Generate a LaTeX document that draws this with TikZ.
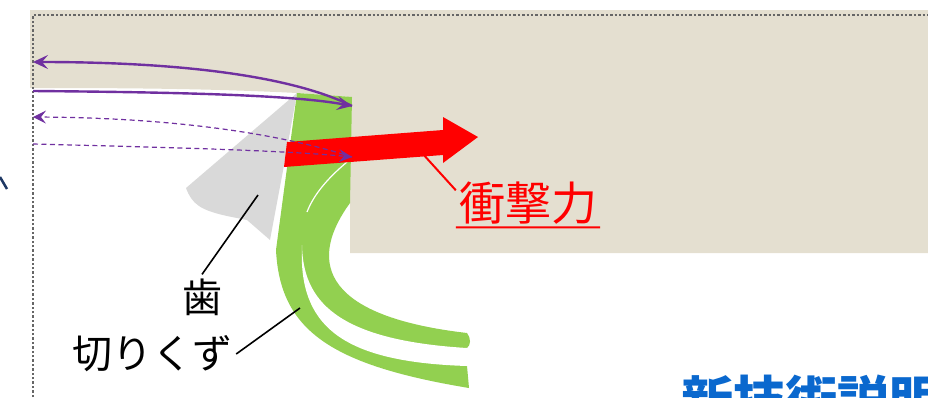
\documentclass[tikz,border=0pt]{standalone}
\usepackage{fontspec}
\newfontfamily\jp{Noto Sans CJK JP}
\usepackage{tikz}
\usepackage{xcolor}
\usetikzlibrary{arrows.meta, positioning}

\definecolor{work}{RGB}{228,223,208}
\definecolor{chipgreen}{RGB}{146,208,80}
\definecolor{toothgray}{RGB}{217,217,217}
\definecolor{swing}{RGB}{112,48,160}
\definecolor{banner}{RGB}{10,104,206}
\definecolor{navy}{RGB}{31,56,100}

\begin{document}
\begin{tikzpicture}[x=1pt, y=-1pt,
    swingline/.style={swing, line width=2.4pt, -{Stealth[length=15pt, width=14pt, inset=6pt]}},
    backline/.style={swing, line width=1.2pt, dash pattern=on 5pt off 3.5pt, -{Stealth[length=13pt, width=13pt, inset=5pt]}},
    leader/.style={line width=1.6pt},
    tag/.style={font=\jp\fontsize{40pt}{40pt}\selectfont, inner sep=4pt}]
                        \useasboundingbox (0,0) rectangle (928,397);
                        \clip (0,0) rectangle (928,397);

                        \fill[work] (30,10) -- (928,10) -- (928,253) -- (350,253) -- (350,97) -- (297,93)
                        .. controls (200,88) and (100,88) .. (30,88) -- cycle;
                        \fill[toothgray] (297,93) -- (186,188) .. controls (192,204) and (200,210) .. (227,216)
                        -- (247,220) -- (270,240) -- (285,160) -- cycle;
                        \fill[chipgreen] (297,93) -- (352,97) -- (350,203) .. controls (312,255) and (312,315) .. (467,333)
                        .. controls (471,338) and (471,345) .. (467,348) -- (467,366) -- (469,388)
                        .. controls (330,365) and (280,330) .. (276,250) -- cycle;
                        \fill[white] (302,245) .. controls (303,300) and (335,340) .. (467,348) -- (472,348) -- (472,366)
                        -- (467,366) .. controls (340,362) and (298,325) .. (302,245) -- cycle;
                        \draw[white, line width=1.2pt] (347,162) .. controls (328,178) and (314,194) .. (307,212);
                        \fill[red] (287,142) -- (443,130) -- (443,117) -- (478,137) -- (443,163) -- (443,155) -- (284,167) -- cycle;

                        \draw[black!60, line width=2.5pt, dash pattern=on 2.4pt off 2pt] (33,397) -- (33,15) -- (928,15);
                        \draw[navy, line width=2.5pt] (0,177) -- (7,189);

                        \coordinate (tipA) at (352,106);
                        \coordinate (tipB) at (352,157);
                        \coordinate (edgeA) at (33,91);
                        \coordinate (edgeB) at (33,62);
                        \coordinate (edgeC) at (33,144);
                        \coordinate (edgeD) at (33,117);
                        \draw[swingline] (edgeA) .. controls (150,92) and (290,94) .. (tipA);
                        \draw[swingline] (tipA) .. controls (300,80) and (200,62) .. (edgeB);
                        \draw[backline] (tipB) .. controls (300,140) and (200,118) .. (edgeD);
                        \draw[backline] (edgeC) .. controls (150,147) and (280,150) .. (tipB);

                        \node[tag] (lbltooth) at (202,297) {歯};
                        \node[tag] (lblchip) at (152,354) {切りくず};
                        \node[tag, red, font=\jp\fontsize{46pt}{46pt}\selectfont, inner sep=3pt] (lblforce) at (528,203) {衝撃力};
                        \node[font=\jp\bfseries\fontsize{52pt}{52pt}\selectfont, text=banner, anchor=north west, inner sep=0pt] (lblbanner) at (681,375) {新技術説明};

                        \coordinate (toothpt) at (258,195);
                        \coordinate (chippt) at (300,308);
                        \coordinate (forcept) at (422,153);
                        \draw[leader]
                        (toothpt) -- (lbltooth.north)
                        (chippt) -- (lblchip.east);
                        \draw[red, line width=2pt]
                        (forcept) -- (lblforce.170)
                        (lblforce.south west) -- (lblforce.south east);
                    \end{tikzpicture}
\end{document}
